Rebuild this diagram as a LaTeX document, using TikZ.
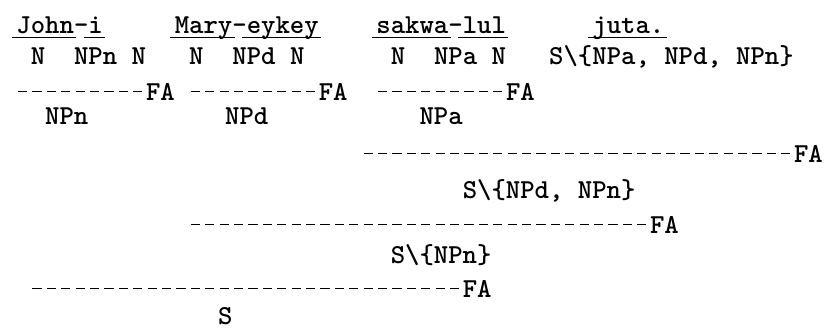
\documentclass[tikz,border=0pt]{standalone}
\newcommand\colx[1]{16+14.4*#1}
\tikzset{
  tt/.style={inner sep=0pt, anchor=base west,
    font=\fontsize{13.7}{16}\selectfont\ttfamily\bfseries},
  rule/.style={line width=0.9pt, dash pattern=on 4.6pt off 2.6pt},
  uline/.style={line width=0.9pt},
}
\begin{document}
\begin{tikzpicture}[x=0.5pt, y=-0.5pt]
\useasboundingbox (0,0) rectangle (828,329);

% words with morpheme underlines
\node[tt] (john)  at ({\colx{0}},33)  {John};
\node[tt] (h1)    at ({\colx{4}},33)  {-};
\node[tt] (i)     at ({\colx{5}},33)  {i};
\node[tt] (mary)  at ({\colx{11}},33) {Mary};
\node[tt] (h2)    at ({\colx{15}},33) {-};
\node[tt] (eykey) at ({\colx{16}},33) {eykey};
\node[tt] (sakwa) at ({\colx{25}},33) {sakwa};
\node[tt] (h3)    at ({\colx{30}},33) {-};
\node[tt] (lul)   at ({\colx{31}},33) {lul};
\node[tt] (juta)  at ({\colx{40}},33) {juta.};
\foreach \w in {john,i,mary,eykey,sakwa,lul,juta}
  \draw[uline] ([xshift=-2pt,yshift=-2.2pt]\w.base west) -- ([xshift=1pt,yshift=-2.2pt]\w.base east);

% lexical categories
\node[tt] (n1)  at ({\colx{1}},64)  {N};
\node[tt] (npn) at ({\colx{4}},64)  {NPn};
\node[tt] (n2)  at ({\colx{8}},64)  {N};
\node[tt] (n3)  at ({\colx{12}},64) {N};
\node[tt] (npd) at ({\colx{15}},64) {NPd};
\node[tt] (n4)  at ({\colx{19}},64) {N};
\node[tt] (n5)  at ({\colx{26}},64) {N};
\node[tt] (npa) at ({\colx{29}},64) {NPa};
\node[tt] (n6)  at ({\colx{33}},64) {N};
\node[tt] (vb)  at ({\colx{37}},64) {S\textbackslash\{NPa, NPd, NPn\}};

% first applications
\coordinate (d1) at ({\colx{0}+2},0);
\coordinate (d2) at ({\colx{12}+2},0);
\coordinate (d3) at ({\colx{25}+2},0);
\node[tt] (fa1) at ({\colx{9}},100)  {FA};
\node[tt] (fa2) at ({\colx{21}},100) {FA};
\node[tt] (fa3) at ({\colx{34}},100) {FA};
\draw[rule] (d1 |- fa1.west) -- (fa1.west);
\draw[rule] (d2 |- fa2.west) -- (fa2.west);
\draw[rule] (d3 |- fa3.west) -- (fa3.west);
\node[tt] (rn) at ({\colx{2}},124)    {NPn};
\node[tt] (rd) at ({\colx{14.5}},124) {NPd};
\node[tt] (ra) at ({\colx{28}},124)   {NPa};

% verb takes NPa
\coordinate (d4) at ({\colx{24}+2},0);
\node[tt] (fa4) at ({\colx{54}},162) {FA};
\draw[rule] (d4 |- fa4.west) -- (fa4.west);
\node[tt] (vp1) at ({\colx{31}},198) {S\textbackslash\{NPd, NPn\}};

% then NPd
\coordinate (d5) at ({\colx{12}+2},0);
\node[tt] (fa5) at ({\colx{44}},233) {FA};
\draw[rule] (d5 |- fa5.west) -- (fa5.west);
\node[tt] (vp2) at ({\colx{26}},263) {S\textbackslash\{NPn\}};

% then NPn
\coordinate (d6) at ({\colx{1}+2},0);
\node[tt] (fa6) at ({\colx{31}},297) {FA};
\draw[rule] (d6 |- fa6.west) -- (fa6.west);
\node[tt] (s) at ({\colx{14}},324) {S};
\end{tikzpicture}
\end{document}
